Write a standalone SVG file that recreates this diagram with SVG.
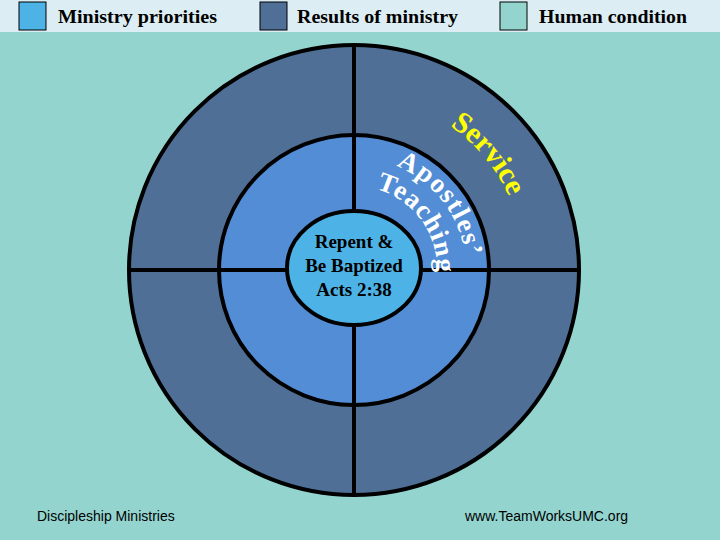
<svg xmlns="http://www.w3.org/2000/svg" width="720" height="540" viewBox="0 0 720 540">
<style>
.leg{font-family:"Liberation Serif",serif;font-weight:bold;font-size:18px;fill:#000}
.sq{stroke:#000;stroke-width:1}
.ring{stroke:#000;stroke-width:4}
.c{font-family:"Liberation Serif",serif;font-weight:bold;font-size:19px;fill:#000;text-anchor:middle}
.arc{font-family:"Liberation Serif",serif;font-weight:bold}
.foot{font-family:"Liberation Sans",sans-serif;font-size:14px;fill:#000}
</style>
<defs>
<path id="pS" d="M450,126 A170,170 0 0 1 524,270"/>
<path id="pA" d="M396,166 A112,112 0 0 1 466,270"/>
<path id="pT" d="M376,189 A83,83 0 0 1 437,270"/>
</defs>
<rect width="720" height="540" fill="#93D4CF"/>
<rect width="720" height="32" fill="#DCEEF3"/>
<g id="legend">
<rect class="sq" x="19" y="2" width="27" height="28" fill="#4DB3E6"/>
<text class="leg" x="58" y="23" textLength="159" lengthAdjust="spacingAndGlyphs">Ministry priorities</text>
<rect class="sq" x="260" y="2" width="27" height="28" fill="#4F6F96"/>
<text class="leg" x="297" y="23" textLength="161" lengthAdjust="spacingAndGlyphs">Results of ministry</text>
<rect class="sq" x="500" y="2" width="27" height="28" fill="#93D4CF"/>
<text class="leg" x="539" y="23" textLength="148" lengthAdjust="spacingAndGlyphs">Human condition</text>
</g>
<g id="outer"><circle class="ring" cx="354" cy="270" r="225" fill="#4F6F96"/></g>
<g id="middle"><circle class="ring" cx="354" cy="270" r="135" fill="#538DD5"/></g>
<g id="connectors">
<line class="ring" x1="354" y1="45" x2="354" y2="495"/>
<line class="ring" x1="129" y1="270" x2="579" y2="270"/>
</g>
<g id="inner">
<ellipse class="ring" cx="354" cy="268" rx="67" ry="57" fill="#4DB3E6"/>
<text class="c" x="354" y="248">Repent &amp;</text>
<text class="c" x="354" y="272">Be Baptized</text>
<text class="c" x="354" y="296">Acts 2:38</text>
</g>
<text class="arc" font-size="30" fill="#FFFF00"><textPath href="#pS">Service</textPath></text>
<text class="arc" font-size="27" fill="#FFFFFF" letter-spacing="1.5"><textPath href="#pA">Apostles’</textPath></text>
<text class="arc" font-size="27" fill="#FFFFFF" letter-spacing="1"><textPath href="#pT">Teaching</textPath></text>
<text class="foot" x="37" y="521">Discipleship Ministries</text>
<text class="foot" x="465" y="521">www.TeamWorksUMC.org</text>
</svg>
